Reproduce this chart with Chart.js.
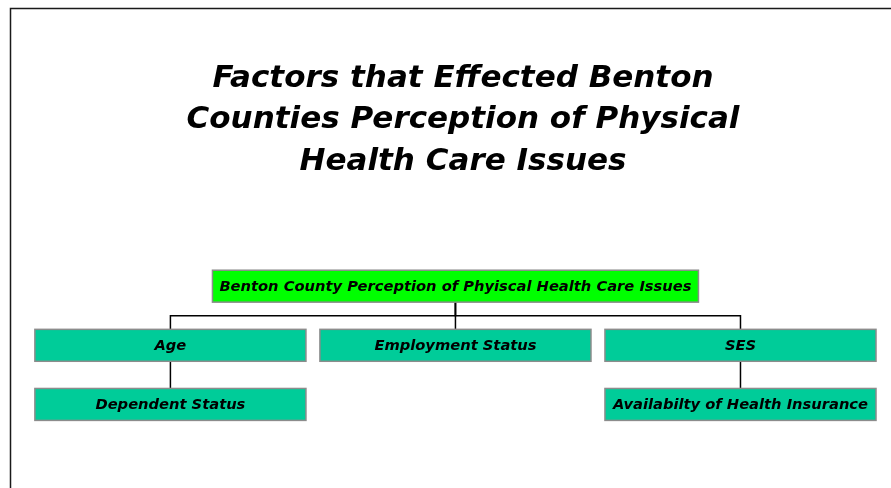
<!DOCTYPE html>
<html>
<head>
<meta charset="utf-8">
<script src="https://cdn.jsdelivr.net/npm/chart.js@4.4.1/dist/chart.umd.min.js"></script>
<style>
  body { margin: 0; background: #ffffff; }
  #wrap { width: 891px; height: 488px; }
</style>
</head>
<body>
<div id="wrap"><canvas id="orgChart" width="891" height="488"></canvas></div>
<script>
// Chart data: one entry per box of the diagram
const titleLines = ['Factors that Effected Benton', 'Counties Perception of Physical', 'Health Care Issues'];
const nodeLabels = ['Benton County Perception of Phyiscal Health Care Issues', 'Age', 'Employment Status', 'SES', 'Dependent Status', 'Availabilty of Health Insurance'];
const nodeColumns = [1, 0, 1, 2, 0, 2];
const nodeLevels = [0, 1, 1, 1, 2, 2];
const nodeParents = [-1, 0, 0, 0, 1, 3];

// Box sizes in scale units (x = columns, y = levels)
const rootWidth = 1.705;
const boxWidth = 0.951;
const boxHeight = 0.54;

// Build the connector lines from parent/child links
const connectors = [];
nodeParents.forEach((p, i) => {
    if (p < 0) return;
    const mid = (nodeLevels[p] + nodeLevels[i]) / 2;
    connectors.push({
        data: [
            { x: nodeColumns[p], y: nodeLevels[p] + boxHeight / 2 },
            { x: nodeColumns[p], y: mid },
            { x: nodeColumns[i], y: mid },
            { x: nodeColumns[i], y: nodeLevels[i] - boxHeight / 2 }
        ],
        showLine: true,
        borderColor: '#000000',
        borderWidth: 1.5,
        pointRadius: 0,
        fill: false
    });
});

// Plugin to draw the page frame
const framePlugin = {
    id: 'frame',
    beforeDraw(chart) {
        const c = chart.ctx;
        c.save();
        c.strokeStyle = '#1a1a1a';
        c.lineWidth = 1.5;
        c.beginPath();
        c.moveTo(891, 8.5);
        c.lineTo(10.5, 8.5);
        c.lineTo(10.5, 488);
        c.stroke();
        c.restore();
    }
};

// Plugin to draw a box with its label on each node
const boxPlugin = {
    id: 'boxes',
    afterDatasetsDraw(chart) {
        const c = chart.ctx;
        const xs = chart.scales.x;
        const ys = chart.scales.y;
        c.save();
        nodeLabels.forEach((label, i) => {
            const w = nodeLevels[i] === 0 ? rootWidth : boxWidth;
            const x1 = xs.getPixelForValue(nodeColumns[i] - w / 2);
            const x2 = xs.getPixelForValue(nodeColumns[i] + w / 2);
            const y1 = ys.getPixelForValue(nodeLevels[i] - boxHeight / 2);
            const y2 = ys.getPixelForValue(nodeLevels[i] + boxHeight / 2);
            c.fillStyle = nodeLevels[i] === 0 ? '#00ff00' : '#00cc99';
            c.fillRect(x1, y1, x2 - x1, y2 - y1);
            c.strokeStyle = '#8c8c8c';
            c.lineWidth = 1.5;
            c.strokeRect(x1, y1, x2 - x1, y2 - y1);
            c.fillStyle = '#000000';
            c.font = 'italic bold 14.7px "DejaVu Sans", Verdana, sans-serif';
            c.textAlign = 'center';
            c.textBaseline = 'middle';
            c.fillText(label, (x1 + x2) / 2, (y1 + y2) / 2 + 1);
        });
        c.restore();
    }
};

const ctx = document.getElementById('orgChart').getContext('2d');
const orgChart = new Chart(ctx, {
    type: 'scatter',
    data: {
        datasets: [
            {
                data: nodeLabels.map((l, i) => ({ x: nodeColumns[i], y: nodeLevels[i] })),
                pointRadius: 0
            },
            ...connectors
        ]
    },
    options: {
        responsive: false,
        animation: false,
        layout: {
            padding: { left: 43, right: 8, top: 0, bottom: 54 }
        },
        scales: {
            x: { type: 'linear', min: -0.447, max: 2.5, display: false },
            y: { type: 'linear', min: -0.5, max: 2.5, reverse: true, display: false }
        },
        plugins: {
            legend: { display: false },
            tooltip: { enabled: false },
            title: {
                display: true,
                text: titleLines,
                color: '#000000',
                font: { family: '"DejaVu Sans", Verdana, sans-serif', size: 31, style: 'italic', weight: 'bold', lineHeight: 1.34 },
                padding: { top: 58, bottom: 74 }
            }
        }
    },
    plugins: [framePlugin, boxPlugin]
});
</script>
</body>
</html>
